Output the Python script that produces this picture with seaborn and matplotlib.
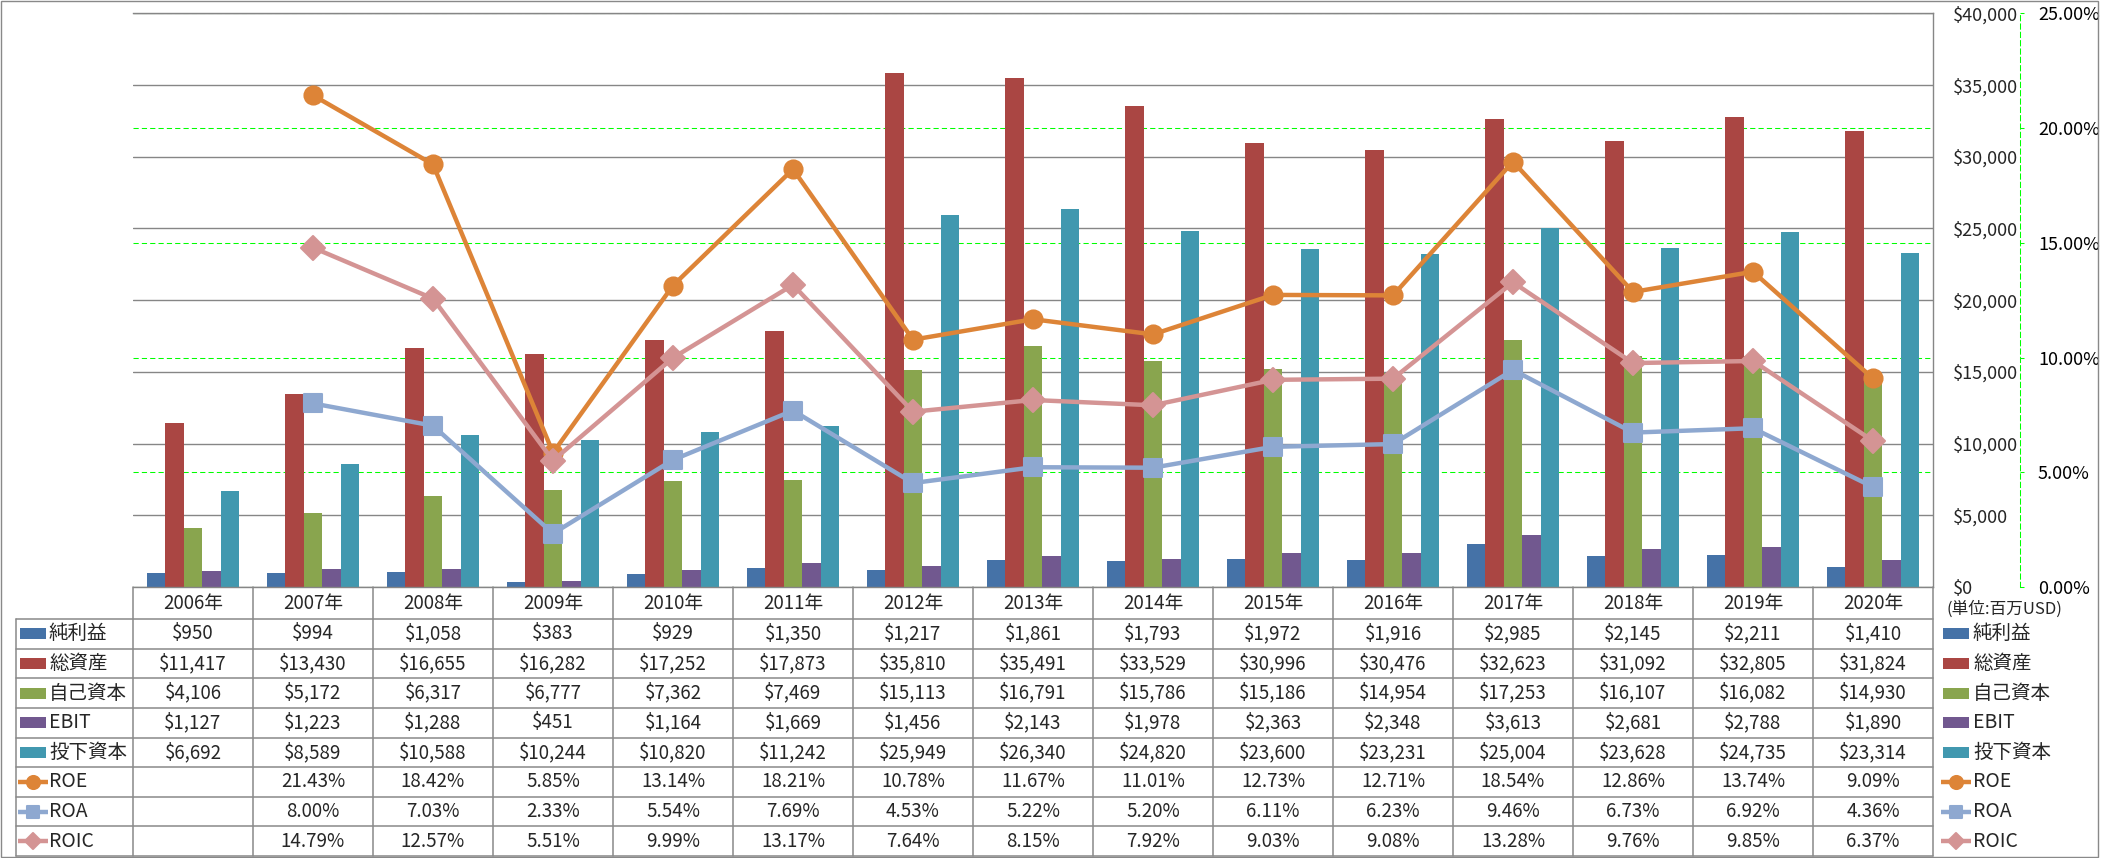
import numpy as np
import pandas as pd
import matplotlib
matplotlib.use("Agg")
import matplotlib.pyplot as plt
import seaborn as sns
from matplotlib.transforms import blended_transform_factory
from matplotlib.markers import MarkerStyle
from matplotlib.patches import Rectangle

# ---------------- data ----------------
years = [2006, 2007, 2008, 2009, 2010, 2011, 2012, 2013, 2014, 2015, 2016, 2017, 2018, 2019, 2020]
net_income = [950, 994, 1058, 383, 929, 1350, 1217, 1861, 1793, 1972, 1916, 2985, 2145, 2211, 1410]
total_assets = [11417, 13430, 16655, 16282, 17252, 17873, 35810, 35491, 33529, 30996, 30476, 32623, 31092, 32805, 31824]
equity = [4106, 5172, 6317, 6777, 7362, 7469, 15113, 16791, 15786, 15186, 14954, 17253, 16107, 16082, 14930]
ebit = [1127, 1223, 1288, 451, 1164, 1669, 1456, 2143, 1978, 2363, 2348, 3613, 2681, 2788, 1890]
invested = [6692, 8589, 10588, 10244, 10820, 11242, 25949, 26340, 24820, 23600, 23231, 25004, 23628, 24735, 23314]
roe = [None, 21.43, 18.42, 5.85, 13.14, 18.21, 10.78, 11.67, 11.01, 12.73, 12.71, 18.54, 12.86, 13.74, 9.09]
roa = [None, 8.00, 7.03, 2.33, 5.54, 7.69, 4.53, 5.22, 5.20, 6.11, 6.23, 9.46, 6.73, 6.92, 4.36]
roic = [None, 14.79, 12.57, 5.51, 9.99, 13.17, 7.64, 8.15, 7.92, 9.03, 9.08, 13.28, 9.76, 9.85, 6.37]

bar_names = ["純利益", "総資産", "自己資本", "EBIT", "投下資本"]
bar_series = [net_income, total_assets, equity, ebit, invested]
bar_colors = ["#4572A7", "#AA4643", "#89A54E", "#71588F", "#4198AF"]
line_names = ["ROE", "ROA", "ROIC"]
line_series = [roe, roa, roic]
line_colors = ["#DD8437", "#8EA8D0", "#D49494"]
line_markers = ["o", "s", "D"]
line_msizes = [13, 12.5, 12]
unit_text = "(単位:百万USD)"

# ---------------- style ----------------
sns.set_theme(style="white")
plt.rcParams["font.family"] = ["Noto Sans CJK JP", "DejaVu Sans"]

W, H = 2101, 858
fig = plt.figure(figsize=(W / 100, H / 100), dpi=100)
fig.patch.set_facecolor("white")

PL, PR, PT, PB = 133, 1933, 13.4, 587
ax = fig.add_axes([PL / W, 1 - PB / H, (PR - PL) / W, (PB - PT) / H])
ax_p = ax.twinx()
ax_l = ax.twinx()
ax_p.set_zorder(1)
ax.set_zorder(2)
ax_l.set_zorder(3)
ax.patch.set_visible(False)

year_labels = [f"{y}年" for y in years]

# bars
df = pd.DataFrame({
    "year": np.tile(year_labels, len(bar_names)),
    "metric": np.repeat(bar_names, len(years)),
    "value": np.concatenate([np.asarray(s, dtype=float) for s in bar_series]),
})
sns.barplot(data=df, x="year", y="value", hue="metric", hue_order=bar_names,
            order=year_labels, palette=bar_colors, width=0.77, saturation=1,
            errorbar=None, legend=False, linewidth=0, ax=ax)

ax.set_ylim(0, 40000)
ax.set_yticks(np.arange(0, 40001, 5000))
ax.yaxis.set_major_formatter(lambda v, p: f"${v:,.0f}")
ax.yaxis.tick_right()
ax.tick_params(axis="y", length=0, pad=14.4, labelsize=13, labelright=True, labelleft=False)
ax.tick_params(axis="x", length=0, labelbottom=False)
ax.set_xlabel("")
ax.set_ylabel("")
ax.yaxis.grid(True, color="#868686", lw=1.0)
ax.xaxis.grid(False)
ax.set_axisbelow(True)
ax.spines["left"].set_visible(False)
for s in ["top", "right", "bottom"]:
    ax.spines[s].set_visible(True)
    ax.spines[s].set_color("#868686")
    ax.spines[s].set_linewidth(1.0)

# percent axis (grid + labels)
green = "#00FF00"
ax_p.set_ylim(0, 25)
ax_p.set_yticks(np.arange(0, 26, 5))
ax_p.yaxis.set_major_formatter(lambda v, p: f"{v:.2f}%")
ax_p.yaxis.grid(True, color=green, lw=0.75, linestyle=(0, (5, 3)))
ax_p.tick_params(axis="y", color=green, labelcolor="black", length=3, width=0.75,
                 direction="out", pad=10, labelsize=13)
for s in ["left", "top", "bottom"]:
    ax_p.spines[s].set_visible(False)
ax_p.spines["right"].set_position(("outward", 62.6))
ax_p.spines["right"].set_color(green)
ax_p.spines["right"].set_linestyle((0, (5, 3)))
ax_p.spines["right"].set_linewidth(0.75)

# lines
pos = np.arange(len(years))
for name, vals, col, mk, ms in zip(line_names, line_series, line_colors, line_markers, line_msizes):
    v = np.array([np.nan if x is None else x for x in vals], dtype=float)
    m = ~np.isnan(v)
    sns.lineplot(x=pos[m], y=v[m], ax=ax_l, color=col, linewidth=3.2,
                 marker=MarkerStyle(mk, joinstyle="round"), markersize=ms,
                 markeredgecolor=col, markeredgewidth=1.5, markerfacecolor=col,
                 estimator=None, sort=False)
ax_l.set_ylim(0, 25)
ax_l.set_yticks([])
ax_l.set_ylabel("")
ax_l.set_xlabel("")
for s in ax_l.spines.values():
    s.set_visible(False)
ax.set_xlim(-0.5, len(years) - 0.5)

# ---------------- data table & legends ----------------
ov = fig.add_axes([0, 0, 1, 1], zorder=10)
ov.set_xlim(0, W)
ov.set_ylim(H, 0)
ov.axis("off")
bt = blended_transform_factory(ax.transData, ov.transData)

gcol = "#898989"
HDR_T, HDR_B, TB_B = 587, 619, 856
n_rows = len(bar_names) + len(line_names)
row_h = (TB_B - HDR_B) / n_rows
row_c = [HDR_B + row_h * (k + 0.5) for k in range(n_rows)]

# grid lines of the table
for i in range(len(years) + 1):
    ov.plot([i - 0.5, i - 0.5], [HDR_T, TB_B], color=gcol, lw=1.1, transform=bt, clip_on=False)
for k in range(n_rows + 1):
    yy = HDR_B + row_h * k
    ov.plot([16, PR], [yy, yy], color=gcol, lw=1.1, clip_on=False)
ov.plot([16, 16], [HDR_B, TB_B], color=gcol, lw=1.1)

# header
for i, lab in enumerate(year_labels):
    ov.text(i, (HDR_T + HDR_B) / 2, lab, transform=bt, ha="center", va="center", fontsize=13.5)

# cell values
for k, vals in enumerate(bar_series):
    for i, v in enumerate(vals):
        ov.text(i, row_c[k], f"${v:,}", transform=bt, ha="center", va="center", fontsize=13.5)
for j, vals in enumerate(line_series):
    k = len(bar_series) + j
    for i, v in enumerate(vals):
        if v is not None:
            ov.text(i, row_c[k], f"{v:.2f}%", transform=bt, ha="center", va="center", fontsize=13.5)


def draw_key(x0, y, kind, color, marker=None, ms=None):
    if kind == "bar":
        ov.add_patch(Rectangle((x0, y - 5.5), 26, 11, facecolor=color, edgecolor="none"))
    else:
        ov.plot([x0 - 2, x0 + 28], [y, y], color=color, lw=3.2, solid_capstyle="butt")
        ov.plot([x0 + 13], [y], color=color, marker=MarkerStyle(marker, joinstyle="round"),
                markersize=ms, markeredgecolor=color, markeredgewidth=1.5)


all_names = bar_names + line_names
for k, name in enumerate(all_names):
    y = row_c[k]
    if k < len(bar_names):
        draw_key(20, y, "bar", bar_colors[k])
        draw_key(1943, y, "bar", bar_colors[k])
    else:
        j = k - len(bar_names)
        draw_key(20, y, "line", line_colors[j], line_markers[j], line_msizes[j] * 0.72)
        draw_key(1943, y, "line", line_colors[j], line_markers[j], line_msizes[j] * 0.72)
    ov.text(49, y, name, ha="left", va="center", fontsize=14)
    ov.text(1973, y, name, ha="left", va="center", fontsize=14)

ov.text(1947, 609, unit_text, ha="left", va="center", fontsize=12)

# outer border
ov.add_patch(Rectangle((0.5, 0.5), 2097.5, 856, facecolor="none", edgecolor=gcol, lw=1.0))

fig.savefig("out.png", dpi=100, facecolor="white")
